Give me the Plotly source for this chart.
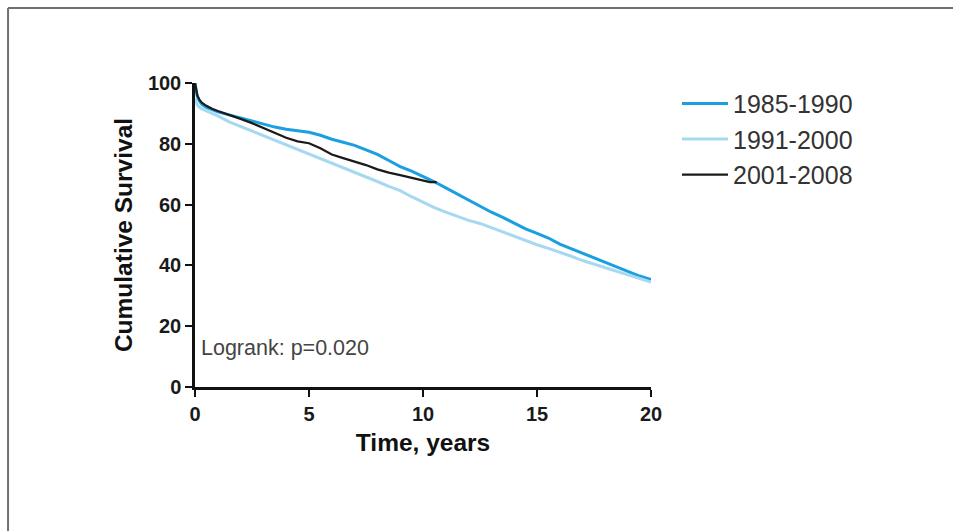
import plotly.graph_objects as go

# Kaplan-Meier cumulative survival (%) by period of diagnosis
t_1985 = [0, 0.05, 0.1, 0.2, 0.3, 0.5, 0.8, 1.0, 1.5, 2.0, 2.5, 3.0, 3.5, 4.0, 4.5,
          5.0, 5.5, 6.0, 6.5, 7.0, 7.5, 8.0, 8.5, 9.0, 9.5, 10.0, 10.5, 11.0, 11.5,
          12.0, 12.5, 13.0, 13.5, 14.0, 14.5, 15.0, 15.5, 16.0, 16.5, 17.0, 17.5,
          18.0, 18.5, 19.0, 19.5, 20.0]
s_1985 = [100, 97, 95.5, 94, 93, 92, 91, 90.5, 89.5, 88.5, 87.5, 86.5, 85.5, 84.8, 84.2,
          83.8, 82.8, 81.5, 80.5, 79.5, 78, 76.5, 74.5, 72.5, 71, 69.3, 67.5, 65.5, 63.5,
          61.5, 59.5, 57.5, 55.8, 53.8, 52, 50.5, 49, 47, 45.5, 44, 42.5,
          41, 39.5, 38, 36.5, 35.3]

t_1991 = [0, 0.05, 0.1, 0.2, 0.3, 0.5, 1.0, 1.5, 2.0, 2.5, 3.0, 3.5, 4.0, 4.5,
          5.0, 5.5, 6.0, 6.5, 7.0, 7.5, 8.0, 8.5, 9.0, 9.5, 10.0, 10.5, 11.0, 11.5,
          12.0, 12.5, 13.0, 13.5, 14.0, 14.5, 15.0, 15.5, 16.0, 16.5, 17.0, 17.5,
          18.0, 18.5, 19.0, 19.5, 20.0]
s_1991 = [95, 93.5, 92.8, 92, 91.5, 90.8, 89.2, 87.2, 85.7, 84.3, 82.8, 81.3, 79.8, 78.2,
          76.8, 75.3, 73.7, 72.2, 70.7, 69.2, 67.6, 66, 64.6, 62.6, 60.8, 59.0, 57.5, 56.1,
          54.8, 53.8, 52.4, 51.0, 49.5, 48.0, 46.8, 45.6, 44.4, 43.0, 41.6, 40.4,
          39.2, 38.0, 36.8, 35.6, 34.5]

t_2001 = [0, 0.05, 0.1, 0.2, 0.3, 0.5, 0.75, 1.0, 1.5, 2.0, 2.5, 3.0, 3.5, 4.0, 4.5,
          5.0, 5.5, 6.0, 6.5, 7.0, 7.5, 8.0, 8.5, 9.0, 9.5, 10.0, 10.3, 10.6]
s_2001 = [100, 97.5, 96, 94.4, 93.5, 92.5, 91.5, 90.8, 89.6, 88.2, 86.8, 85.2, 83.6, 82.0, 80.8,
          80.2, 78.5, 76.5, 75.3, 74.2, 73.0, 71.6, 70.5, 69.7, 68.8, 68.0, 67.4, 67.4]

series = [
    ("1985-1990", t_1985, s_1985, "#1a9fe0", 3),
    ("1991-2000", t_1991, s_1991, "#a6d9f1", 3),
    ("2001-2008", t_2001, s_2001, "#1a1a1a", 2.2),
]

x_ticks = [0, 5, 10, 15, 20]
y_ticks = [0, 20, 40, 60, 80, 100]

FONT = "Liberation Sans, Arial, sans-serif"

fig = go.Figure()
for name, t, s, color, width in series:
    fig.add_trace(go.Scatter(
        x=t, y=s, mode="lines", name=name,
        line=dict(color=color, width=width, shape="linear"),
    ))

fig.add_annotation(
    x=0.18, y=12.8, xref="x", yref="y", text="Logrank: p=0.020",
    showarrow=False, xanchor="left", yanchor="middle",
    font=dict(family=FONT, size=21.5, color="#444444"),
)

# page frame, open at the right and bottom
frame = dict(color="#707070", width=2)
fig.add_shape(type="line", xref="paper", yref="paper",
              x0=-0.41, x1=1.8, y0=1.2467, y1=1.2467, line=frame)
fig.add_shape(type="line", xref="paper", yref="paper",
              x0=-0.41, x1=-0.41, y0=1.2467, y1=-0.6, line=frame)

axis_common = dict(
    showgrid=False, zeroline=False, showline=True, linecolor="#111111", linewidth=2.5,
    ticks="outside", ticklen=7, tickwidth=2, tickcolor="#111111",
    tickfont=dict(family=FONT, size=20, color="#1a1a1a", weight="bold"),
)

fig.update_layout(
    width=953, height=531,
    margin=dict(l=195, r=302, t=83, b=144),
    paper_bgcolor="white", plot_bgcolor="white",
    font=dict(family=FONT),
    xaxis=dict(range=[0, 20], tickvals=x_ticks, **axis_common,
               title=dict(text="Time, years", standoff=11,
                          font=dict(family=FONT, size=24.5, color="#111111", weight="bold"))),
    yaxis=dict(range=[0, 100], tickvals=y_ticks, **axis_common,
               title=dict(text="Cumulative Survival", standoff=9,
                          font=dict(family=FONT, size=24.5, color="#111111", weight="bold"))),
    legend=dict(x=1.057, y=1.007, xanchor="left", yanchor="top",
                font=dict(family=FONT, size=25, color="#333333"),
                itemwidth=46, bgcolor="rgba(0,0,0,0)"),
    showlegend=True,
)

fig.write_html("out.html")
